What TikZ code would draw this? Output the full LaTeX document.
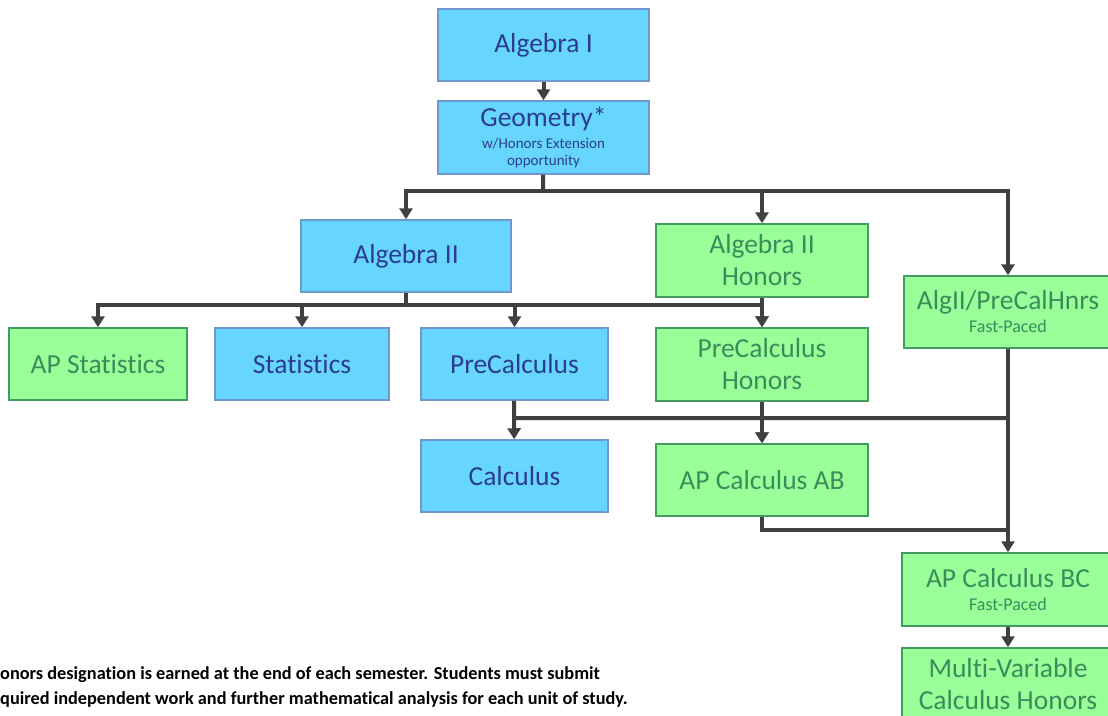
\documentclass[tikz,border=0pt]{standalone}
\usepackage{fontspec}
\setmainfont{Carlito}[Ligatures=NoCommon]
\usetikzlibrary{positioning,arrows.meta}
\definecolor{bluefill}{HTML}{66D5FF}
\definecolor{blueline}{HTML}{6F98CC}
\definecolor{bluetext}{HTML}{2B3D8C}
\definecolor{greenfill}{HTML}{99FF99}
\definecolor{greenline}{HTML}{459A62}
\definecolor{greentext}{HTML}{3B8C5A}
\definecolor{linegray}{HTML}{404040}
\newcommand\crsbig{\fontsize{27.5}{32}\selectfont}
\newcommand\crssmall{\fontsize{15}{17}\selectfont}
\newcommand\crspace{\fontsize{18}{20}\selectfont}

\begin{document}
\begin{tikzpicture}[
  x = 1pt, y = -1pt, font = \crsbig,
  crs/.style = {rectangle, draw, line width=1.5pt, align=center, minimum height=72pt, inner sep=2pt},
  reg/.style = {crs, draw=blueline, fill=bluefill, text=bluetext},
  hon/.style = {crs, draw=greenline, fill=greenfill, text=greentext},
  bus/.style = {line width=4pt, draw=linegray},
  arr/.style = {bus, -{Triangle[width=13pt,length=11pt]}}
]
\useasboundingbox (0,0) rectangle (1108,715);
\clip (0,0) rectangle (1108,715);
% courses
\node[reg, minimum width=211pt] (alg1)   at (543.5,45)  {Algebra I};
\node[reg, minimum width=211pt, minimum height=73pt, font=\crssmall] (geo) at (543.5,137.5)
  {{\crsbig Geometry*}\\[5pt]w/Honors Extension\\opportunity};
\node[reg, minimum width=210pt] (alg2)   at (406,256)   {Algebra II};
\node[hon, minimum width=212pt, minimum height=73pt] (alg2h) at (762,260.5) {Algebra II\\Honors};
\node[hon, minimum width=208pt, font=\crspace] (fast) at (1008,312) {{\crsbig AlgII/PreCalHnrs}\\[3pt]Fast-Paced};
\node[hon, minimum width=178pt] (apstat) at (98,364)    {AP Statistics};
\node[reg, minimum width=174pt] (stat)   at (302,364)   {Statistics};
\node[reg, minimum width=187pt] (precal) at (514.5,364) {PreCalculus};
\node[hon, minimum width=212pt, minimum height=73pt] (precalh) at (762,364.5) {PreCalculus\\Honors};
\node[reg, minimum width=187pt] (calc)   at (514.5,476) {Calculus};
\node[hon, minimum width=212pt] (apab)   at (762,480)   {AP Calculus AB};
\node[hon, minimum width=212pt, minimum height=73pt, font=\crspace] (apbc) at (1008,589.5) {{\crsbig AP Calculus BC}\\[3pt]Fast-Paced};
\node[hon, minimum width=212pt, minimum height=73pt] (mv) at (1008,684.5) {Multi-Variable\\Calculus Honors};
% note
\node[anchor=north west, align=left, inner sep=0pt, font=\bfseries\fontsize{18.3}{25}\selectfont] (note) at (0,666)
  {onors designation is earned at the end of each semester. Students must submit\\
   quired independent work and further mathematical analysis for each unit of study.};
% connectors
\coordinate (gbus) at (543,191);
\coordinate (abus) at (406,305);
\coordinate (pbus) at (514,418);
\coordinate (bbus) at (762,530);
\draw[arr] (alg1) -- (geo);
\draw[bus] (geo) -- (gbus);
\draw[arr] (gbus) -| (alg2);
\draw[arr] (gbus) -| (alg2h);
\draw[arr] (gbus) -| (fast);
\draw[bus] (alg2) -- (abus);
\draw[arr] (abus) -| (apstat);
\draw[arr] (abus) -| (stat);
\draw[arr] (abus) -| (precal);
\draw[arr] (abus) -| (precalh);
\draw[arr] (alg2h) -- (precalh);
\draw[bus] (precal) -- (pbus) -- (pbus -| fast);
\draw[arr] (pbus) -- (calc);
\draw[arr] (pbus) -| (apab);
\draw[arr] (precalh) -- (apab);
\draw[arr] (fast) -- (apbc);
\draw[bus] (apab) -- (bbus) -- (bbus -| apbc);
\draw[arr] (apbc) -- (mv);
\end{tikzpicture}
\end{document}
